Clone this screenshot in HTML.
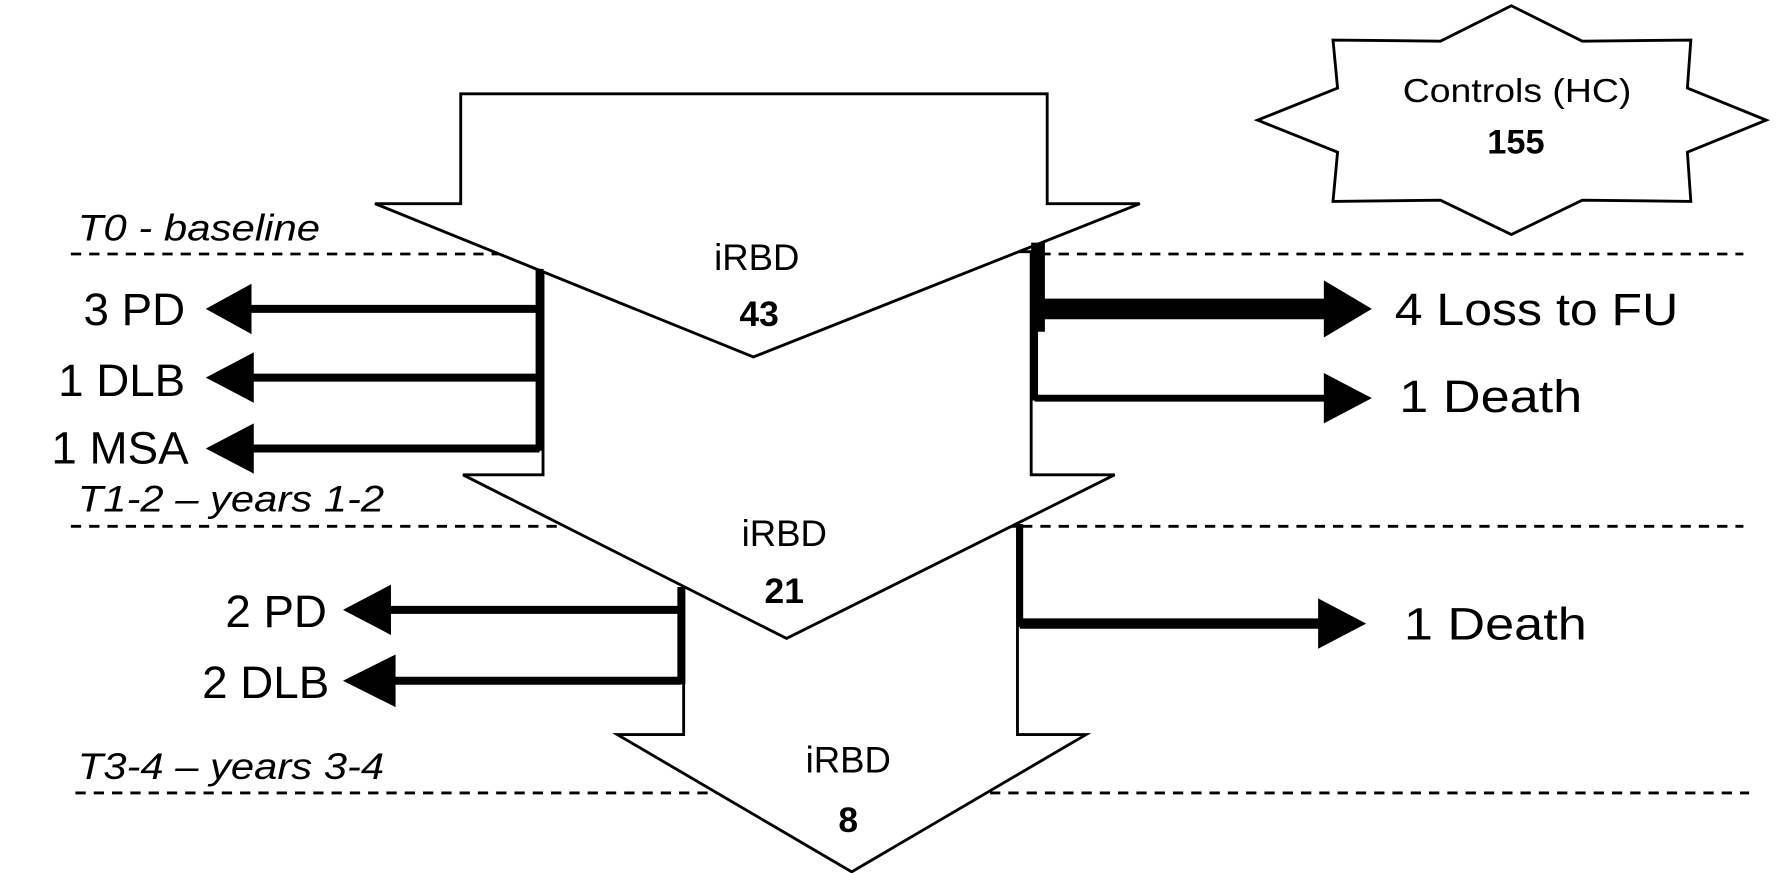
<!DOCTYPE html>
<html><head><meta charset="utf-8"><style>html,body{margin:0;padding:0;background:#fff}svg{display:block}</style></head>
<body>
<svg width="1788" height="873" viewBox="0 0 1564 763" preserveAspectRatio="none" xmlns="http://www.w3.org/2000/svg" font-family="'Liberation Sans', sans-serif">
<g stroke="#000" stroke-width="2.5" stroke-dasharray="9,7">
<line x1="62" y1="222" x2="1525" y2="222"/>
<line x1="62" y1="460" x2="1525" y2="460"/>
<line x1="66" y1="693" x2="1530" y2="693"/>
</g>
<polygon points="598,460 890,460 890,642 950,642 745,762 540,642 598,642" fill="#fff" stroke="#000" stroke-width="2.5"/>
<polygon points="475,220 902,220 902,415 975,415 688,558 405,415 475,415" fill="#fff" stroke="#000" stroke-width="2.5"/>
<polygon points="403,82 916,82 916,178 997,178 659,312 328,178 403,178" fill="#fff" stroke="#000" stroke-width="2.5"/>
<g fill="#000" stroke="#000">
<line x1="472" y1="235" x2="472" y2="394" stroke-width="7"/>
<line x1="472" y1="270" x2="215" y2="270" stroke-width="7"/>
<polygon points="180,270 220,248 220,292" stroke="none"/>
<line x1="472" y1="330" x2="215" y2="330" stroke-width="7"/>
<polygon points="180,330 222,308 222,352" stroke="none"/>
<line x1="472" y1="392" x2="215" y2="392" stroke-width="7"/>
<polygon points="180,392 222,370 222,414" stroke="none"/>
<line x1="908" y1="212" x2="908" y2="290" stroke-width="12"/>
<line x1="905" y1="285" x2="905" y2="350" stroke-width="6"/>
<line x1="905" y1="270" x2="1165" y2="270" stroke-width="18"/>
<polygon points="1200,270 1158,245 1158,295" stroke="none"/>
<line x1="905" y1="348" x2="1165" y2="348" stroke-width="6"/>
<polygon points="1200,348 1158,326 1158,370" stroke="none"/>
<line x1="596" y1="513" x2="596" y2="598" stroke-width="7"/>
<line x1="596" y1="533" x2="335" y2="533" stroke-width="7"/>
<polygon points="300,533 342,511 342,555" stroke="none"/>
<line x1="596" y1="595" x2="335" y2="595" stroke-width="7"/>
<polygon points="300,595 346,572 346,618" stroke="none"/>
<line x1="892" y1="458" x2="892" y2="548" stroke-width="6"/>
<line x1="892" y1="545" x2="1160" y2="545" stroke-width="9"/>
<polygon points="1195,545 1153,523 1153,567" stroke="none"/>
</g>
<polygon points="1322,5 1384,36 1479,35 1476,77 1545,105 1476,133 1479,176 1384,175 1322,205 1260,175 1166,176 1170,133 1100,105 1170,77 1166,35 1260,36" fill="#fff" stroke="#000" stroke-width="2.5"/>
<g text-anchor="middle" fill="#000">
<text x="1327" y="89" font-size="29" textLength="200" lengthAdjust="spacingAndGlyphs">Controls (HC)</text>
<text x="1326" y="134" font-size="30" font-weight="bold">155</text>
<text x="662" y="236" font-size="32">iRBD</text>
<text x="664" y="285" font-size="31" font-weight="bold">43</text>
<text x="686" y="477" font-size="32">iRBD</text>
<text x="686" y="527" font-size="31" font-weight="bold">21</text>
<text x="742" y="675" font-size="32">iRBD</text>
<text x="742" y="727" font-size="31" font-weight="bold">8</text>
</g>
<g text-anchor="end" font-size="40" fill="#000">
<text x="162" y="284">3 PD</text>
<text x="162" y="346">1 DLB</text>
<text x="165" y="405">1 MSA</text>
<text x="286" y="548">2 PD</text>
<text x="288" y="610">2 DLB</text>
</g>
<g font-size="40" fill="#000">
<text x="1220" y="284" textLength="248" lengthAdjust="spacingAndGlyphs">4 Loss to FU</text>
<text x="1224" y="360" textLength="160" lengthAdjust="spacingAndGlyphs">1 Death</text>
<text x="1228" y="559" textLength="160" lengthAdjust="spacingAndGlyphs">1 Death</text>
</g>
<g font-size="32" font-style="italic" fill="#000">
<text x="68" y="210" textLength="212" lengthAdjust="spacingAndGlyphs">T0 - baseline</text>
<text x="68" y="447" textLength="268" lengthAdjust="spacingAndGlyphs">T1-2 – years 1-2</text>
<text x="68" y="681" textLength="268" lengthAdjust="spacingAndGlyphs">T3-4 – years 3-4</text>
</g>
</svg>
</body></html>
